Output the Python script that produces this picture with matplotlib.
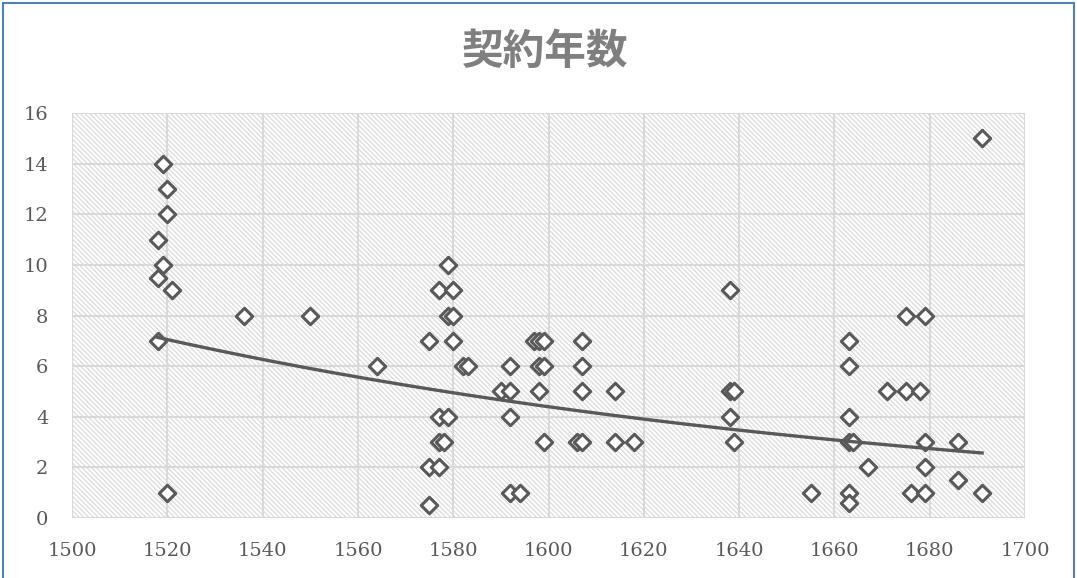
import numpy as np
import matplotlib.pyplot as plt
from matplotlib.patches import Rectangle

# 契約の開始年と契約年数 (読み取り値)
years = [1519, 1520, 1520, 1518, 1519, 1518, 1521, 1536, 1518, 1520, 1550, 1564,
         1579, 1577, 1580, 1579, 1580, 1575, 1580, 1582, 1583, 1592, 1597, 1598,
         1599, 1598, 1599, 1607, 1607, 1590, 1592, 1598, 1607, 1614, 1577, 1579,
         1592, 1577, 1578, 1599, 1606, 1607, 1614, 1618, 1575, 1577, 1592, 1594,
         1575,
         1638, 1638, 1639, 1638, 1639, 1655, 1663, 1663, 1663, 1663, 1664, 1663,
         1663, 1667, 1671, 1675, 1679, 1675, 1678, 1679, 1679, 1676, 1679, 1686,
         1686, 1691, 1691]
terms = [14, 13, 12, 11, 10, 9.5, 9, 8, 7, 1, 8, 6,
         10, 9, 9, 8, 8, 7, 7, 6, 6, 6, 7, 7,
         7, 6, 6, 7, 6, 5, 5, 5, 5, 5, 4, 4,
         4, 3, 3, 3, 3, 3, 3, 3, 2, 2, 1, 1,
         0.5,
         9, 5, 5, 4, 3, 1, 7, 6, 4, 3, 3, 1,
         0.6, 2, 5, 8, 8, 5, 5, 3, 2, 1, 1, 3,
         1.5, 1, 15]

x_ticks = [1500, 1520, 1540, 1560, 1580, 1600, 1620, 1640, 1660, 1680, 1700]
y_ticks = [0, 2, 4, 6, 8, 10, 12, 14, 16]

plt.rcParams['hatch.linewidth'] = 0.9

fig = plt.figure(figsize=(10.77, 5.78), dpi=100)
ax = fig.add_axes([0.0669, 0.1038, 0.9517 - 0.0669, 0.8045 - 0.1038])

# hatched plot area
ax.add_patch(Rectangle((0, 0), 1, 1, transform=ax.transAxes, facecolor='white',
                       edgecolor='#dcdcdc', hatch='\\' * 7, linewidth=0, zorder=0.1))

ax.scatter(years, terms, marker='D', s=70, facecolor='white', edgecolor='#595959',
           linewidths=2.2, zorder=3)

# exponential trend line
b, a = np.polyfit(years, np.log(terms), 1)
tx = np.linspace(min(years), max(years), 200)
ax.plot(tx, np.exp(a + b * tx), color='#595959', lw=2.4, zorder=4)

ax.set_xlim(1500, 1700)
ax.set_ylim(0, 16)
ax.set_xticks(x_ticks)
ax.set_yticks(y_ticks)
ax.set_axisbelow(True)
ax.grid(True, color='#d9d9d9', lw=1.5)
for s in ax.spines.values():
    s.set_visible(False)
ax.tick_params(length=0, colors='#595959', labelsize=14)
ax.tick_params(axis='x', pad=17)
ax.tick_params(axis='y', pad=17)
for lab in ax.get_xticklabels() + ax.get_yticklabels():
    lab.set_family('DejaVu Serif')

fig.text(0.506, 0.91, '契約年数', ha='center', va='center', fontsize=30,
         fontweight='bold', color='#7f7f7f', family=['Noto Sans CJK JP', 'DejaVu Sans'])

fig.patches.append(Rectangle((0.003, -0.01), 0.994, 1.005, transform=fig.transFigure,
                             fill=False, edgecolor='#4f81bd', lw=1.5))

fig.savefig('out.png', dpi=100)
